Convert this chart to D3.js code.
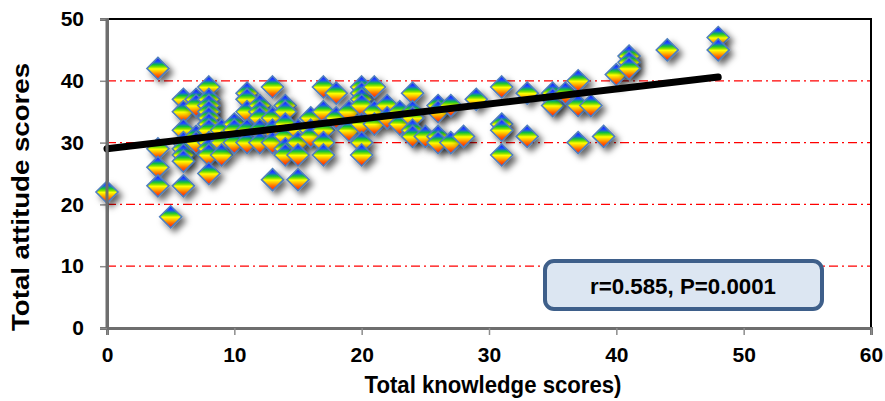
<!DOCTYPE html>
<html><head><meta charset="utf-8">
<script src="https://cdn.jsdelivr.net/npm/d3@7"></script>
<style>body{margin:0;background:#fff}svg{display:block}</style>
</head><body>
<svg id="c" width="885" height="401"></svg>
<script>
const knowledge = [0,4,4,4,4,5,6,6,6,6,6,6,6,6,7,7,7,7,8,8,8,8,8,8,8,8,8,8,8,9,9,9,10,10,10,11,11,11,11,11,12,12,12,12,12,13,13,13,13,13,14,14,14,14,14,14,15,15,15,15,16,16,16,17,17,17,17,17,18,18,19,19,20,20,20,20,20,20,20,21,21,21,22,22,23,23,24,24,24,24,24,25,26,26,26,26,27,27,28,29,31,31,31,31,33,33,35,35,35,36,37,37,37,38,39,40,41,41,41,44,48,48];
const attitude  = [22,42,29,26,23,18,37,35,32,30,29,28,27,23,37,36,31,30,39,37,36,35,34,33,32,30,29,28,25,32,30,28,33,32,30,38,37,35,32,30,36,35,34,32,30,39,34,32,30,24,36,35,33,31,29,28,32,30,28,24,34,32,31,39,35,32,30,28,38,34,35,32,39,38,37,36,33,30,28,39,35,33,36,34,35,33,38,35,34,32,31,31,36,35,31,30,36,30,31,37,39,33,32,28,38,31,38,37,36,38,40,36,30,36,31,41,44,43,42,45,47,45];
const trendX = [0, 48];
const trendY = [29, 40.6];
const xTicks = [0,10,20,30,40,50,60];
const yTicks = [0,10,20,30,40,50];
const gridVals = [10,20,30,40];
const xTitle = "Total knowledge scores)";
const yTitle = "Total attitude scores";
const note = "r=0.585, P=0.0001";

const svg = d3.select("#c");
const x = d3.scaleLinear().domain([0,60]).range([107,871]);
const y = d3.scaleLinear().domain([0,50]).range([328,19]);
const font = "'Liberation Sans',Arial,sans-serif";

const defs = svg.append("defs");
const grad = defs.append("linearGradient").attr("id","rb").attr("x1",0).attr("y1",0).attr("x2",0).attr("y2",1);
[[0,"#1010ff"],[0.2,"#2050ff"],[0.33,"#10c040"],[0.43,"#80e000"],[0.52,"#ffff00"],[0.64,"#ffc000"],[0.78,"#ff7000"],[1,"#ff1010"]]
  .forEach(([o,c])=>grad.append("stop").attr("offset",o).attr("stop-color",c));
const f = defs.append("filter").attr("id","sh").attr("x","-50%").attr("y","-50%").attr("width","200%").attr("height","200%");
f.append("feDropShadow").attr("dx",4).attr("dy",4).attr("stdDeviation",3).attr("flood-color","#000").attr("flood-opacity",0.6);

// gridlines
svg.append("g").selectAll("line").data(gridVals).join("line")
  .attr("x1",x(0)).attr("x2",x(60)).attr("y1",d=>y(d)).attr("y2",d=>y(d))
  .attr("stroke","#ff0000").attr("stroke-width",1.3).attr("stroke-dasharray","9,4,2,4");

// plot border
svg.append("rect").attr("x",x(0)).attr("y",y(50)).attr("width",x(60)-x(0)).attr("height",y(0)-y(50))
  .attr("fill","none").attr("stroke","#000").attr("stroke-width",2);

// axes
const xa = svg.append("g").attr("transform",`translate(0,${y(0)})`)
  .call(d3.axisBottom(x).tickValues(xTicks).tickSize(7).tickPadding(12).tickFormat(d3.format("d")));
const ya = svg.append("g").attr("transform",`translate(${x(0)},0)`)
  .call(d3.axisLeft(y).tickValues(yTicks).tickSize(7).tickPadding(16).tickFormat(d3.format("d")));
[xa,ya].forEach(a=>{
  a.select(".domain").attr("stroke","#6e6e6e").attr("stroke-width",3);
  a.selectAll(".tick line").attr("stroke","#8c8c8c").attr("stroke-width",1.5);
  a.selectAll("text").attr("font-family",font).attr("font-weight","bold").attr("font-size",21).attr("fill","#000");
});

// markers
const pts = knowledge.map((k,i)=>({k, a: attitude[i]}));
const sz = 11;
svg.append("g").selectAll("path").data(pts).join("path")
  .attr("d",`M0,${-sz}L${sz},0L0,${sz}L${-sz},0Z`)
  .attr("transform",d=>`translate(${x(d.k)},${y(d.a)})`)
  .attr("fill","url(#rb)").attr("stroke","#4f7fbf").attr("stroke-width",1.6)
  .attr("filter","url(#sh)");

// trend line
svg.append("line").attr("x1",x(trendX[0])).attr("y1",y(trendY[0])).attr("x2",x(trendX[1])).attr("y2",y(trendY[1]))
  .attr("stroke","#000").attr("stroke-width",7).attr("stroke-linecap","round");
svg.append("line").attr("x1",x(0)).attr("x2",x(0)).attr("y1",y(50)).attr("y2",y(0)).attr("stroke","#6e6e6e").attr("stroke-width",3);

// annotation
svg.append("rect").attr("x",545).attr("y",261).attr("width",277).attr("height",48).attr("rx",9)
  .attr("fill","#dce6f2").attr("stroke","#3e5f8a").attr("stroke-width",4);
svg.append("text").attr("x",683).attr("y",294).attr("text-anchor","middle")
  .attr("font-family",font).attr("font-weight","bold").attr("font-size",22)
  .attr("textLength",186).attr("lengthAdjust","spacingAndGlyphs").text(note);

// titles
svg.append("text").attr("x",493).attr("y",393).attr("text-anchor","middle")
  .attr("font-family",font).attr("font-weight","bold").attr("font-size",23)
  .attr("textLength",257).attr("lengthAdjust","spacingAndGlyphs").text(xTitle);
svg.append("text").attr("transform","translate(29,197) rotate(-90)").attr("text-anchor","middle")
  .attr("font-family",font).attr("font-weight","bold").attr("font-size",23)
  .attr("textLength",268).attr("lengthAdjust","spacingAndGlyphs").text(yTitle);
</script>
</body></html>
